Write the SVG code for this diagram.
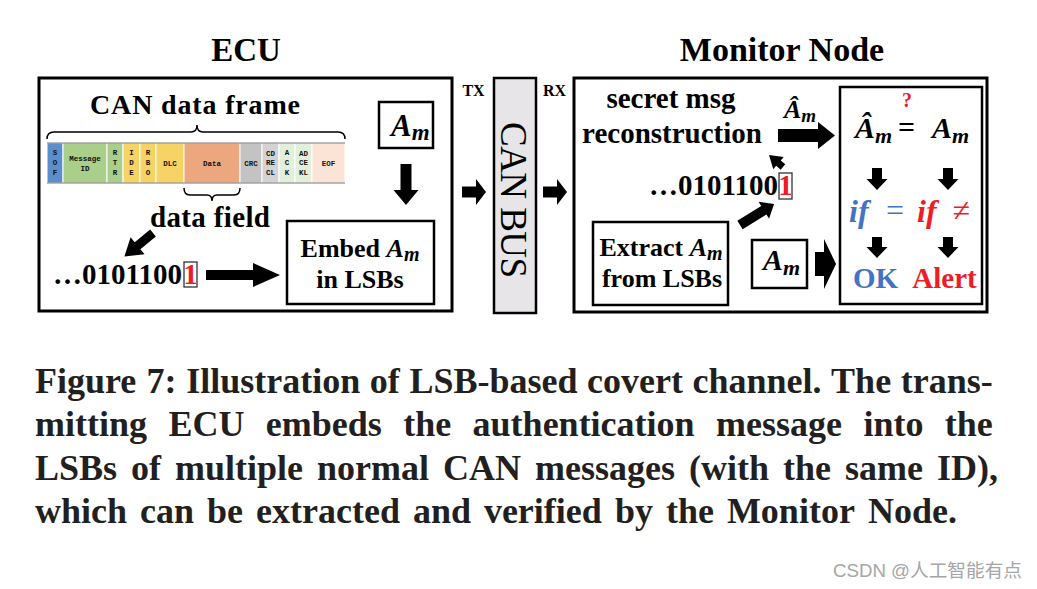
<svg xmlns="http://www.w3.org/2000/svg" width="1037" height="589" viewBox="0 0 1037 589">
<style>
.b{font-family:"Liberation Serif","Times New Roman",serif;font-weight:bold;fill:#000}
.it{font-style:italic}
.box{fill:#fff;stroke:#000;stroke-width:2.5}
.frame{fill:#fff;stroke:#000;stroke-width:3}
.arr{fill:#000;stroke:none}
.seg{stroke:#fff;stroke-width:1}
.st{font-family:"Liberation Mono","Courier New",monospace;font-weight:bold;font-size:7.5px;fill:#111;text-anchor:middle}
.brace{fill:none;stroke:#000;stroke-width:1.5}
.bitbox{fill:none;stroke:#333;stroke-width:1.3}
.red{fill:#ee1c25}
.blue{fill:#4472c4}
.cap{font-family:"Liberation Serif","Times New Roman",serif;font-weight:bold;font-size:36px;fill:#231f20}
</style>
<rect width="1037" height="589" fill="#fff"/>

<!-- titles -->
<text class="b" x="246" y="61" font-size="33" text-anchor="middle">ECU</text>
<text class="b" x="782" y="61" font-size="34" text-anchor="middle">Monitor Node</text>

<!-- ECU -->
<g id="ecu">
<rect class="frame" x="39" y="78" width="413" height="233"/>
<text class="b" x="90" y="114" font-size="28" textLength="210" lengthAdjust="spacing">CAN data frame</text>
<path class="brace" d="M47,139 Q47,132 54,132 L191,132 Q197,132 197,125 Q197,132 203,132 L338,132 Q345,132 345,139"/>
<g id="can-frame">
<rect class="seg" x="47" y="143" width="16" height="40" fill="#5b8fcb"/>
<rect class="seg" x="63" y="143" width="44" height="40" fill="#a9cf8b"/>
<rect class="seg" x="107" y="143" width="16" height="40" fill="#a9cf8b"/>
<rect class="seg" x="123" y="143" width="17" height="40" fill="#f7d264"/>
<rect class="seg" x="140" y="143" width="16" height="40" fill="#f7d264"/>
<rect class="seg" x="156" y="143" width="28" height="40" fill="#f7d264"/>
<rect class="seg" x="184" y="143" width="56" height="40" fill="#eca77e"/>
<rect class="seg" x="240" y="143" width="22" height="40" fill="#c3c3c3"/>
<rect class="seg" x="262" y="143" width="17" height="40" fill="#d4d2d2"/>
<rect class="seg" x="279" y="143" width="16" height="40" fill="#e2efda"/>
<rect class="seg" x="295" y="143" width="17" height="40" fill="#e2efda"/>
<rect class="seg" x="312" y="143" width="33" height="40" fill="#fbe4d6"/>
<line x1="47" y1="143" x2="345" y2="143" stroke="#555" stroke-width="0.8"/>
<line x1="47" y1="183" x2="345" y2="183" stroke="#555" stroke-width="0.8"/>
<text class="st" x="55" y="155">S</text><text class="st" x="55" y="165">O</text><text class="st" x="55" y="175">F</text>
<text class="st" x="85" y="161">Message</text><text class="st" x="85" y="171">ID</text>
<text class="st" x="115" y="155">R</text><text class="st" x="115" y="165">T</text><text class="st" x="115" y="175">R</text>
<text class="st" x="131.5" y="155">I</text><text class="st" x="131.5" y="165">D</text><text class="st" x="131.5" y="175">E</text>
<text class="st" x="148" y="155">R</text><text class="st" x="148" y="165">B</text><text class="st" x="148" y="175">O</text>
<text class="st" x="170" y="166">DLC</text>
<text class="st" x="212" y="166">Data</text>
<text class="st" x="251" y="166">CRC</text>
<text class="st" x="270.5" y="156">CD</text><text class="st" x="270.5" y="165">RE</text><text class="st" x="270.5" y="175">CL</text>
<text class="st" x="287" y="155">A</text><text class="st" x="287" y="165">C</text><text class="st" x="287" y="175">K</text>
<text class="st" x="303.5" y="156">AD</text><text class="st" x="303.5" y="165">CE</text><text class="st" x="303.5" y="175">KL</text>
<text class="st" x="328.5" y="166">EOF</text>
</g>
<path class="brace" d="M184,188 Q184,195 190,195 L207,195 Q212,195 212,201 Q212,195 217,195 L234,195 Q240,195 240,188"/>
<text class="b" x="150" y="227" font-size="29" textLength="120" lengthAdjust="spacing">data field</text>
<text class="b" x="53" y="284" font-size="29">…0101100</text>
<rect class="bitbox" x="184" y="262" width="13" height="25"/>
<text class="b red" x="190.5" y="284" font-size="29" text-anchor="middle">1</text>
</g>

<g id="am-ecu">
<rect class="box" x="379" y="102" width="54" height="46"/>
<text class="b" x="391" y="136" font-size="31"><tspan class="it">A</tspan><tspan class="it" font-size="23" dy="4">m</tspan></text>
</g>

<g id="embed">
<rect class="box" x="287" y="221" width="147" height="83"/>
<text class="b" x="360" y="257" font-size="26" text-anchor="middle">Embed <tspan class="it">A</tspan><tspan class="it" font-size="20" dy="4">m</tspan></text>
<text class="b" x="360" y="288" font-size="26" text-anchor="middle">in LSBs</text>
</g>

<!-- CAN BUS -->
<g id="canbus">
<rect x="494" y="78" width="42" height="235" fill="#e7e5e7" stroke="#000" stroke-width="2.5"/>
<text transform="translate(501,200) rotate(90)" x="0" y="0" font-family="Liberation Serif, Times New Roman, serif" font-size="37" text-anchor="middle" textLength="156" lengthAdjust="spacing">CAN BUS</text>
</g>
<text class="b" x="473.5" y="96" font-size="16" text-anchor="middle">TX</text>
<text class="b" x="554.5" y="96" font-size="16" text-anchor="middle">RX</text>

<!-- Monitor -->
<g id="monitor">
<rect class="frame" x="574" y="78" width="413" height="234"/>
<text class="b" x="671" y="108" font-size="29" text-anchor="middle">secret msg</text>
<text class="b" x="672" y="143" font-size="29" text-anchor="middle">reconstruction</text>
<text class="b" x="784" y="118" font-size="26"><tspan class="it">Â</tspan><tspan class="it" font-size="19" dy="4">m</tspan></text>
<text class="b" x="649" y="195" font-size="29">…0101100</text>
<rect class="bitbox" x="779" y="173" width="13" height="26"/>
<text class="b red" x="785.5" y="195" font-size="29" text-anchor="middle">1</text>
</g>

<g id="extract">
<rect class="box" x="593" y="222" width="135" height="83"/>
<text class="b" x="661" y="256" font-size="26" text-anchor="middle">Extract <tspan class="it">A</tspan><tspan class="it" font-size="20" dy="4">m</tspan></text>
<text class="b" x="662" y="287" font-size="26" text-anchor="middle">from LSBs</text>
</g>

<g id="am-monitor">
<rect class="box" x="752" y="240" width="55" height="48"/>
<text class="b" x="763" y="270" font-size="30"><tspan class="it">A</tspan><tspan class="it" font-size="22" dy="5">m</tspan></text>
</g>

<g id="verify">
<rect class="box" x="840" y="87" width="142" height="217"/>
<text class="b" x="855" y="138" font-size="30"><tspan class="it">Â</tspan><tspan class="it" font-size="22" dy="5">m</tspan></text>
<text class="b" x="906.5" y="137" font-size="30" text-anchor="middle">=</text>
<text class="b red" x="907" y="107" font-size="20" text-anchor="middle">?</text>
<text class="b" x="932" y="138" font-size="30"><tspan class="it">A</tspan><tspan class="it" font-size="22" dy="5">m</tspan></text>
<text class="b it blue" x="849" y="222" font-size="32">if</text>
<text class="blue" x="895" y="221" font-size="32" font-family="Liberation Serif, serif" text-anchor="middle">=</text>
<text class="b it red" x="917" y="222" font-size="32">if</text>
<text class="red" x="961.5" y="221" font-size="32" font-family="Liberation Serif, serif" text-anchor="middle">≠</text>
<text class="b blue" x="875.5" y="288" font-size="29" text-anchor="middle">OK</text>
<text class="b red" x="944.5" y="288" font-size="29" text-anchor="middle">Alert</text>
</g>

<!-- connectors -->
<g id="connectors">
<polygon class="arr" points="400.5,164 411.5,164 411.5,190 418.5,190 406,205 393.5,190 400.5,190"/>
<polygon class="arr" points="206,270 253,270 253,263 280,275 253,287 253,280 206,280"/>
<polygon class="arr" transform="translate(153,233) rotate(140.6)" points="0,-4.5 20,-4.5 20,-11 37,0 20,11 20,4.5 0,4.5"/>
<polygon class="arr" points="462,186.5 476,186.5 476,179 486,192 476,205 476,197.5 462,197.5"/>
<polygon class="arr" points="543,186.5 557,186.5 557,179 567,192 557,205 557,197.5 543,197.5"/>
<polygon class="arr" points="778,129 818,129 818,122 835,135.5 818,149 818,142 778,142"/>
<polygon class="arr" transform="translate(783,167) rotate(220.6)" points="0,-3.5 6,-3.5 6,-8 18.4,0 6,8 6,3.5 0,3.5"/>
<polygon class="arr" transform="translate(740,225) rotate(-31.7)" points="0,-5 28,-5 28,-10 40,0 28,10 28,5 0,5"/>
<polygon class="arr" points="815,252 824,252 824,239 836,264 824,289 824,276 815,276"/>
<polygon class="arr" points="872,168 882,168 882,179 887.5,179 877,190 866.5,179 872,179"/>
<polygon class="arr" points="943,168 953,168 953,179 958.5,179 948,190 937.5,179 943,179"/>
<polygon class="arr" points="872,237 882,237 882,247 887.5,247 877,258 866.5,247 872,247"/>
<polygon class="arr" points="943,237 953,237 953,247 958.5,247 948,258 937.5,247 943,247"/>
</g>

<!-- caption -->
<g id="caption">
<text class="cap" y="393"><tspan x="35">Figure</tspan><tspan x="146.6">7:</tspan><tspan x="186.2">Illustration</tspan><tspan x="369.8">of</tspan><tspan x="409.4">LSB-based</tspan><tspan x="587">covert</tspan><tspan x="692.5">channel.</tspan><tspan x="831.1">The</tspan><tspan x="900.7">trans-</tspan></text>
<text class="cap" y="436"><tspan x="35">mitting</tspan><tspan x="168.4">ECU</tspan><tspan x="265.8">embeds</tspan><tspan x="403.2">the</tspan><tspan x="472.6">authentication</tspan><tspan x="716">message</tspan><tspan x="863.4">into</tspan><tspan x="944.8">the</tspan></text>
<text class="cap" y="480"><tspan x="35">LSBs</tspan><tspan x="131">of</tspan><tspan x="175">multiple</tspan><tspan x="317">normal</tspan><tspan x="443">CAN</tspan><tspan x="535">messages</tspan><tspan x="689">(with</tspan><tspan x="783">the</tspan><tspan x="845">same</tspan><tspan x="937">ID),</tspan></text>
<text class="cap" y="523"><tspan x="35">which</tspan><tspan x="140">can</tspan><tspan x="207">be</tspan><tspan x="256">extracted</tspan><tspan x="412.9">and</tspan><tspan x="483.9">verified</tspan><tspan x="614.9">by</tspan><tspan x="665.9">the</tspan><tspan x="726.9">Monitor</tspan><tspan x="867.9">Node.</tspan></text>
</g>

<text x="833" y="577" font-family="Liberation Sans, Noto Sans CJK SC, sans-serif" font-size="18.5" fill="#a6a6a6" textLength="189" lengthAdjust="spacingAndGlyphs">CSDN @人工智能有点</text>
</svg>
